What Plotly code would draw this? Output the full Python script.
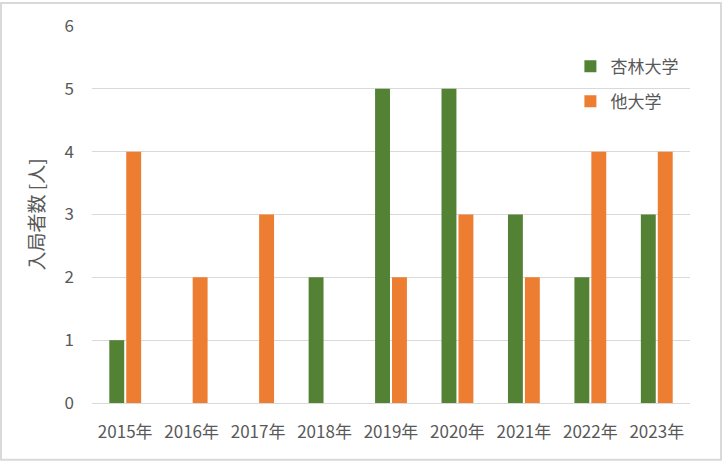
import plotly.graph_objects as go

years = ["2015年", "2016年", "2017年", "2018年", "2019年", "2020年", "2021年", "2022年", "2023年"]
kyorin = [1, 0, 0, 2, 5, 5, 3, 2, 3]
others = [4, 2, 3, 0, 2, 3, 2, 4, 4]
series_names = ["杏林大学", "他大学"]
y_ticks = [0, 1, 2, 3, 4, 5, 6]

W, H = 723, 462
L, R, T, B = 92, 33, 24, 59
FONT = "Noto Sans CJK JP"
TXT = "#595959"

fig = go.Figure()
fig.add_trace(go.Bar(x=years, y=kyorin, name=series_names[0], marker_color="#548235",
                     marker_line_width=0, legendgroup="a"))
fig.add_trace(go.Bar(x=years, y=others, name=series_names[1], marker_color="#ED7D31",
                     marker_line_width=0, legendgroup="b"))

pw = W - L - R
ph = H - T - B
fig.update_layout(
    width=W, height=H,
    margin=dict(l=L, r=R, t=T, b=B),
    paper_bgcolor="white", plot_bgcolor="white",
    font=dict(family=FONT, size=16, color=TXT),
    barmode="group", bargap=0.49, bargroupgap=0.12,
    showlegend=True,
    legend=dict(x=0.80, y=0.94, xanchor="left", yanchor="top",
                bgcolor="rgba(0,0,0,0)", font=dict(size=17, color=TXT),
                traceorder="grouped", tracegroupgap=10, itemwidth=30),
    xaxis=dict(showgrid=False, showline=True, linecolor="#d9d9d9", linewidth=1,
               ticks="", tickfont=dict(size=17, color=TXT), ticklabelstandoff=14),
    yaxis=dict(range=[0, 6], tickvals=y_ticks, showgrid=True, gridcolor="#d9d9d9",
               gridwidth=1, zeroline=False, showline=False, ticks="",
               tickfont=dict(size=17, color=TXT), ticklabelstandoff=17,
               title=dict(text="入局者数 [人]", font=dict(size=19, color=TXT), standoff=14)),
    shapes=[dict(type="rect", xref="paper", yref="paper",
                 x0=(-L + 1) / pw, x1=(pw + R - 2) / pw,
                 y0=(-B + 2) / ph, y1=(ph + T - 1) / ph,
                 line=dict(color="#d9d9d9", width=2), fillcolor="rgba(0,0,0,0)",
                 layer="below")],
)
fig.write_html("out.html", config={"displayModeBar": False},
               post_script="document.body.style.margin='0';document.body.style.padding='0';")
